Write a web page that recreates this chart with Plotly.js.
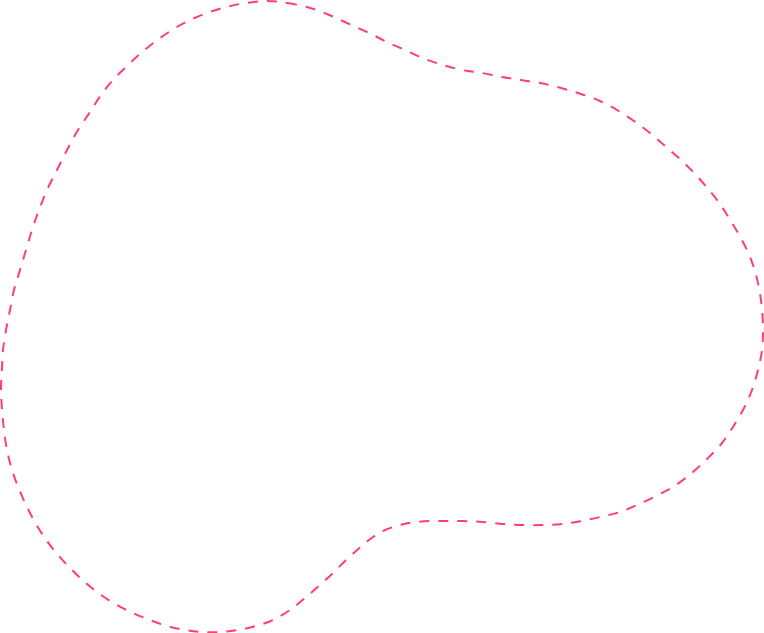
<!DOCTYPE html>
<html>
<head>
<meta charset="utf-8">
<script src="https://cdn.plot.ly/plotly-3.0.1.min.js"></script>
<style>
  html, body { margin: 0; padding: 0; background: #ffffff; }
  #chart { width: 764px; height: 633px; }
</style>
</head>
<body>
<div id="chart"></div>
<script>
// Outline of the blob (pixel coords, y grows downward)
var blobX = [268, 287, 307, 327, 347, 367, 387, 407, 425, 443, 462, 482, 502, 521, 540, 561, 581,
  600, 617, 634, 650, 665, 681, 696, 709, 720, 729, 738, 747, 754, 759, 762, 763, 762, 758, 752,
  744, 733, 722, 708, 693, 676, 658, 637, 620, 600, 581, 562, 542, 522, 503, 483, 463, 446, 430,
  416, 404, 393, 383, 373, 364, 356, 348, 335, 320, 305, 290, 273, 256, 238, 220, 202, 185, 167,
  150, 133, 117, 101, 86, 72, 59, 47, 36, 27, 19, 12, 7, 4, 2, 1, 2, 3, 6, 10, 14, 20, 26, 32, 39,
  47, 57, 67, 78, 90, 101, 113, 127, 141, 156, 172, 188, 207, 226, 246, 268];
var blobY = [1, 3, 7, 14, 23, 32, 42, 51, 59, 65, 70, 73, 77, 80, 83, 88, 94,
  101, 110, 121, 133, 146, 160, 175, 190, 204, 218, 233, 250, 268, 288, 309, 330, 350, 370, 390,
  408, 427, 443, 458, 472, 485, 495, 505, 512, 517, 521, 524, 525, 525, 524, 522, 521, 521, 521,
  522, 524, 527, 531, 537, 544, 551, 558, 571, 585, 598, 610, 620, 626, 630, 632, 632, 630, 626,
  620, 613, 605, 595, 583, 570, 556, 541, 524, 507, 489, 470, 450, 430, 409, 388, 368, 350, 330,
  310, 290, 270, 250, 230, 210, 190, 170, 150, 130, 112, 95, 80, 66, 53, 41, 30, 21, 13, 7, 3, 1];

var trace = {
  type: 'scatter',
  mode: 'lines',
  x: blobX,
  y: blobY,
  line: { color: '#ff3d77', width: 2, dash: '10px,9px', shape: 'spline', smoothing: 1 },
  hoverinfo: 'skip',
  showlegend: false
};

var layout = {
  width: 764,
  height: 633,
  margin: { t: 0, r: 0, b: 0, l: 0 },
  paper_bgcolor: '#ffffff',
  plot_bgcolor: '#ffffff',
  xaxis: { range: [0, 764], visible: false, fixedrange: true },
  yaxis: { range: [633, 0], visible: false, fixedrange: true },
  showlegend: false
};

Plotly.newPlot('chart', [trace], layout, { displayModeBar: false, staticPlot: true });
</script>
</body>
</html>
